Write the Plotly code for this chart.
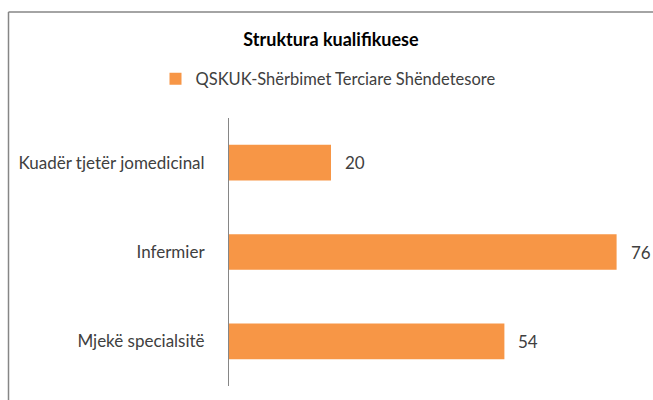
import plotly.graph_objects as go

categories = ["Mjekë specialsitë", "Infermier", "Kuadër tjetër jomedicinal"]
values = [54, 76, 20]
series_name = "QSKUK-Shërbimet Terciare Shëndetesore"
title = "Struktura kualifikuese"

FONT = "Lato, 'Open Sans', sans-serif"
TXT = "#404040"

W, H = 653, 400
L, R, T, B = 229, 637, 118, 386
pw, ph = R - L, B - T
def px(x): return (x - L) / pw
def py(y): return (B - y) / ph

fig = go.Figure()
fig.add_trace(go.Bar(
    y=categories, x=values, orientation="h", name=series_name,
    marker=dict(color="#F79646", line=dict(width=0)),
    showlegend=True,
))

for c, v in zip(categories, values):
    fig.add_annotation(x=v, y=c, text=str(v), showarrow=False,
                       xanchor="left", xshift=12,
                       font=dict(family=FONT, size=17, color=TXT))

frame = dict(color="#868686", width=1.5)
fig.add_shape(type="line", xref="paper", yref="paper",
              x0=px(8.5), x1=px(8.5), y0=py(12), y1=py(H + 10), line=frame, layer="above")
fig.add_shape(type="line", xref="paper", yref="paper",
              x0=px(8.5), x1=px(W + 10), y0=py(12), y1=py(12), line=frame, layer="above")

fig.update_layout(
    width=W, height=H,
    margin=dict(l=L, r=W - R, t=T, b=H - B, autoexpand=False),
    paper_bgcolor="white", plot_bgcolor="white",
    title=dict(text="<b>" + title + "</b>", x=331 / W, xref="container", xanchor="center",
               y=1 - 40 / H, yanchor="middle",
               font=dict(family=FONT, size=18, color="black")),
    legend=dict(orientation="h", x=328 / W, xanchor="center", xref="container",
                y=1 - 79 / H, yref="container", yanchor="middle",
                font=dict(family=FONT, size=16.5, color=TXT),
                itemwidth=30, bgcolor="rgba(0,0,0,0)"),
    bargap=0.6,
    xaxis=dict(range=[0, 80], visible=False, fixedrange=True, automargin=False),
    yaxis=dict(showline=True, linecolor="#868686", linewidth=1,
               ticks="", ticklabelstandoff=20, automargin=False,
               tickfont=dict(family=FONT, size=17, color=TXT),
               showgrid=False, zeroline=False),
    showlegend=True,
)

fig.write_html("out.html", config={"displayModeBar": False},
               post_script="document.body.style.margin='0';document.body.style.overflow='hidden';")
